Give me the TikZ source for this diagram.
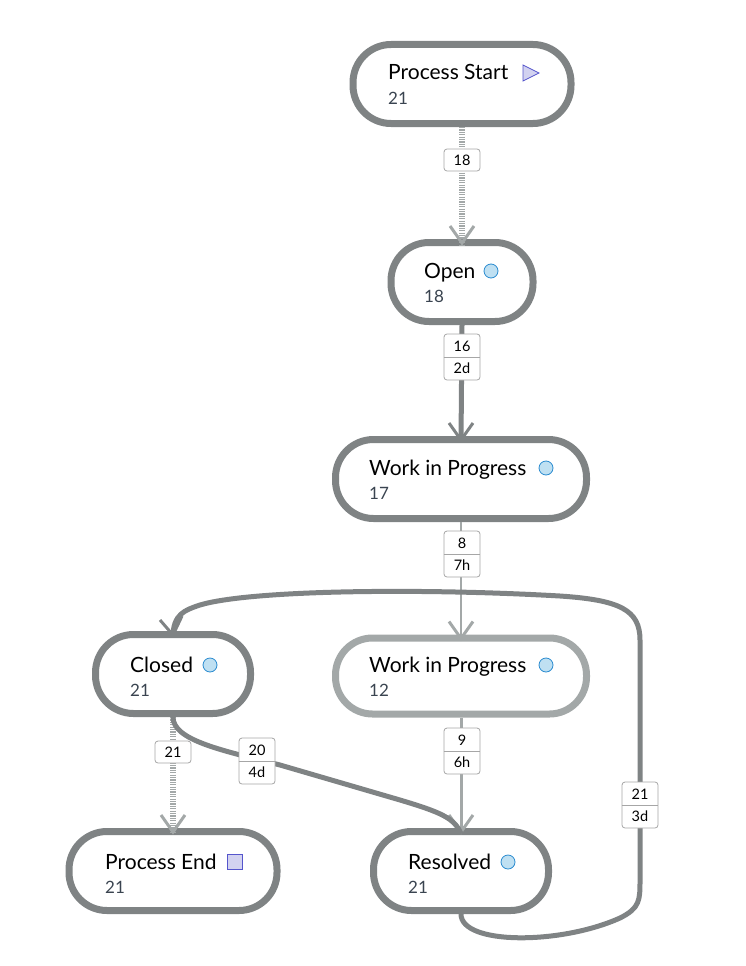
\documentclass[tikz,border=0pt]{standalone}
\usepackage{fontspec}
\setmainfont{Lato}
\usetikzlibrary{arrows.meta,positioning}
\definecolor{dk}{HTML}{7F8384}
\definecolor{lt}{HTML}{A3A8A8}
\definecolor{cnt}{HTML}{3A4450}
\definecolor{circ}{HTML}{BFE0F2}
\definecolor{circb}{HTML}{2A8BD0}
\definecolor{sq}{HTML}{D2D2F0}
\definecolor{sqb}{HTML}{5555CC}
\begin{document}
\begin{tikzpicture}[x=1pt,y=-1pt,
 st/.style={draw=dk,line width=7pt,rounded corners=38pt,fill=white,minimum height=79pt,inner sep=0pt},
 ttl/.style={anchor=base west,inner sep=0pt,font=\fontsize{21}{22}\selectfont,text=black},
 ct/.style={anchor=base west,inner sep=0pt,font=\fontsize{17}{18}\selectfont,text=cnt},
 lf/.style={font=\fontsize{14.5}{15}\selectfont},
 lab/.style={draw=gray!70,line width=0.8pt,rounded corners=3pt,fill=white,minimum width=36pt,minimum height=22pt,inner sep=0pt,lf},
 chev/.style={line width=3pt,line cap=butt,line join=miter},
 ci/.style={circle,draw=circb,fill=circ,line width=0.8pt,minimum size=14pt,inner sep=0pt}]
\useasboundingbox (0,0) rectangle (746,966);
% nodes
\node[st,minimum width=218pt] (ps) at (462,84) {};
\node[st,minimum width=142pt] (op) at (462,282) {};
\node[st,minimum width=251pt] (w1) at (461,479) {};
\node[st,minimum width=155pt] (cl) at (173,674) {};
\node[st,draw=lt,minimum width=251pt,minimum height=76pt,rounded corners=37pt] (w2) at (461,676) {};
\node[st,minimum width=208pt] (pe) at (173,871) {};
\node[st,minimum width=175pt] (rs) at (461,871) {};
% texts
\node[ttl] (t1) at (388,80) {Process Start};
\node[ct] (c1) at (388,104) {21};
\draw[draw=sqb,fill=sq,line width=0.8pt] (523,65) -- (539,73) -- (523,81) -- cycle;
\node[ttl] (t2) at (424,278) {Open};
\node[ci] (o2) at (491,271) {};
\node[ct] (c2) at (424,302) {18};
\node[ttl] (t3) at (369,475) {Work in Progress};
\node[ci] (o3) at (546,468) {};
\node[ct] (c3) at (369,499) {17};
\node[ttl] (t4) at (130,672) {Closed};
\node[ci] (o4) at (210,665) {};
\node[ct] (c4) at (130,696) {21};
\node[ttl] (t5) at (369,672) {Work in Progress};
\node[ci] (o5) at (546,665) {};
\node[ct] (c5) at (369,696) {12};
\node[ttl] (t6) at (105,869) {Process End};
\node[draw=sqb,fill=sq,line width=0.8pt,minimum size=15pt,inner sep=0pt] (s6) at (235,862) {};
\node[ct] (c6) at (105,893) {21};
\node[ttl] (t7) at (408,869) {Resolved};
\node[ci] (o7) at (508,862) {};
\node[ct] (c7) at (408,893) {21};
% edges
\draw[lt,line width=6pt,dash pattern=on 1.2pt off 1.2pt] (ps.south) -- ([yshift=-6pt]op.north);
\draw[lt,chev] ([shift={(-12,-13)}]op.north) -- ([yshift=-4pt]op.north) -- ([shift={(12,-13)}]op.north);
\draw[dk,line width=5pt] (op.south) -- ([yshift=-6pt]w1.north);
\draw[dk,chev] ([shift={(-12,-13)}]w1.north) -- ([yshift=-4pt]w1.north) -- ([shift={(12,-13)}]w1.north);
\draw[lt,line width=2.5pt] (w1.south) -- ([yshift=-5pt]w2.north);
\draw[lt,chev] ([shift={(-12,-13)}]w2.north) -- ([yshift=-4pt]w2.north) -- ([shift={(12,-13)}]w2.north);
\draw[lt,line width=3pt] (w2.south) -- ([yshift=-5pt]rs.north);
\draw[lt,chev] ([shift={(-12,-13)}]rs.north) -- ([yshift=-4pt]rs.north) -- ([shift={(12,-13)}]rs.north);
\draw[lt,line width=6pt,dash pattern=on 1.2pt off 1.2pt] (cl.south) -- ([yshift=-6pt]pe.north);
\draw[lt,chev] ([shift={(-12,-13)}]pe.north) -- ([yshift=-4pt]pe.north) -- ([shift={(12,-13)}]pe.north);
\draw[dk,line width=5pt] (cl.south) .. controls (173,740) and (220,750) .. (280,765) -- (400,800) .. controls (440,812) and (455,818) .. ([yshift=-6pt]rs.north);
\draw[dk,line width=5pt] (rs.south) .. controls (461,945) and (560,945) .. (620,918) .. controls (640,908) and (640,900) .. (640,880) -- (640,640) .. controls (640,610) and (620,600) .. (560,596) .. controls (420,588) and (250,590) .. (200,605) .. controls (185,610) and (173,614) .. ([yshift=-6pt]cl.north);
\draw[dk,chev] ([shift={(-13,-11)}]cl.north) -- ([yshift=-4pt]cl.north) -- ([shift={(9,-15)}]cl.north);
% labels
\node[lab] (l1) at (462,160) {18};
\node[lab,minimum height=46pt] (l2) at (462,357) {};
\node[lf] at (462,346) {16}; \node[lf] at (462,368) {2d};
\draw[gray!70,line width=0.8pt] (l2.west) -- (l2.east);
\node[lab,minimum height=46pt] (l3) at (462,554) {};
\node[lf] at (462,543) {8}; \node[lf] at (462,565) {7h};
\draw[gray!70,line width=0.8pt] (l3.west) -- (l3.east);
\node[lab,minimum height=46pt] (l4) at (462,751) {};
\node[lf] at (462,740) {9}; \node[lf] at (462,762) {6h};
\draw[gray!70,line width=0.8pt] (l4.west) -- (l4.east);
\node[lab] (l5) at (173,752) {21};
\node[lab,minimum height=46pt] (l6) at (257,761) {};
\node[lf] at (257,750) {20}; \node[lf] at (257,772) {4d};
\draw[gray!70,line width=0.8pt] (l6.west) -- (l6.east);
\node[lab,minimum height=46pt] (l7) at (640,805) {};
\node[lf] at (640,794) {21}; \node[lf] at (640,816) {3d};
\draw[gray!70,line width=0.8pt] (l7.west) -- (l7.east);
\end{tikzpicture}
\end{document}
